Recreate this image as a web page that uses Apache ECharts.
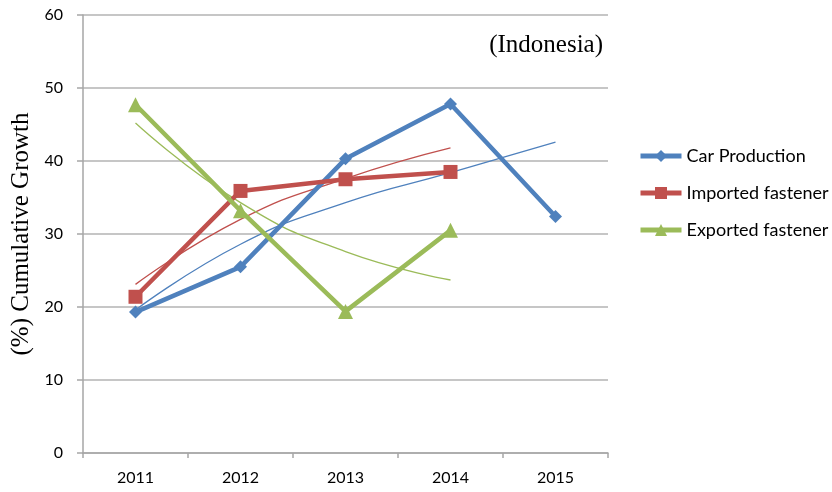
<!DOCTYPE html>
<html>
<head>
<meta charset="utf-8">
<script src="https://cdn.jsdelivr.net/npm/echarts@6/dist/echarts.min.js"></script>
<style>
html,body{margin:0;padding:0;background:#fff;}
#chart{width:832px;height:492px;}
</style>
</head>
<body>
<div id="chart"></div>
<script>
var years=['2011','2012','2013','2014','2015'];
var carProduction=[19.3,25.5,40.3,47.8,32.4];
var importedFastener=[21.4,35.9,37.5,38.5,null];
var exportedFastener=[47.7,33.2,19.4,30.5,null];
// thin trend lines
var carTrend=[19.6,28.6,34.3,38.4,42.6];
var importedTrend=[23.1,32.0,37.6,41.8,null];
var exportedTrend=[45.2,34.3,27.6,23.7,null];

var blue='#4F81BD',red='#C0504D',green='#9BBB59';
var chart=echarts.init(document.getElementById('chart'));
var option={
    animation:false,
    title:{
        text:'(Indonesia)',
        right:229,
        top:33,
        padding:0,
        textStyle:{fontFamily:'Liberation Serif',fontSize:25,fontWeight:'normal',color:'#000'}
    },
    legend:{
        orient:'vertical',
        left:638,
        top:147,
        padding:0,
        itemWidth:41,
        itemHeight:15,
        itemGap:19,
        data:['Car Production','Imported fastener','Exported fastener'],
        lineStyle:{width:5},
        textStyle:{fontFamily:'Lato',fontSize:18,color:'#000'}
    },
    grid:{left:83,right:224,top:15,bottom:39},
    xAxis:{
        type:'category',
        data:years,
        boundaryGap:true,
        axisLine:{lineStyle:{color:'#A6A6A6',width:1.5}},
        axisTick:{show:true,length:5,lineStyle:{color:'#A6A6A6',width:1.5}},
        axisLabel:{margin:17,fontFamily:'Lato',fontSize:16,color:'#000'}
    },
    yAxis:{
        type:'value',
        min:0,
        max:60,
        interval:10,
        name:'(%) Cumulative Growth',
        nameLocation:'middle',
        nameGap:45,
        nameTextStyle:{fontFamily:'Liberation Serif',fontSize:25,color:'#000'},
        axisLine:{show:true,lineStyle:{color:'#A6A6A6',width:1.5}},
        axisTick:{show:true,length:6,lineStyle:{color:'#A6A6A6',width:1.5}},
        axisLabel:{margin:20,fontFamily:'Lato',fontSize:16,color:'#000'},
        splitLine:{lineStyle:{color:'#B3B3B3',width:1.5}}
    },
    series:[
        {name:'Car Production trend',type:'line',data:carTrend,smooth:true,showSymbol:false,
         lineStyle:{color:blue,width:1.3},itemStyle:{color:blue},z:1},
        {name:'Imported fastener trend',type:'line',data:importedTrend,smooth:true,showSymbol:false,
         lineStyle:{color:red,width:1.3},itemStyle:{color:red},z:1},
        {name:'Exported fastener trend',type:'line',data:exportedTrend,smooth:true,showSymbol:false,
         lineStyle:{color:green,width:1.3},itemStyle:{color:green},z:1},
        {name:'Car Production',type:'line',data:carProduction,symbol:'diamond',symbolSize:13,
         lineStyle:{color:blue,width:4.5},itemStyle:{color:blue},z:3},
        {name:'Imported fastener',type:'line',data:importedFastener,symbol:'rect',symbolSize:14,
         lineStyle:{color:red,width:4.5},itemStyle:{color:red},z:3},
        {name:'Exported fastener',type:'line',data:exportedFastener,symbol:'triangle',symbolSize:15,
         lineStyle:{color:green,width:4.5},itemStyle:{color:green},z:3}
    ]
};
chart.setOption(option);
</script>
</body>
</html>
